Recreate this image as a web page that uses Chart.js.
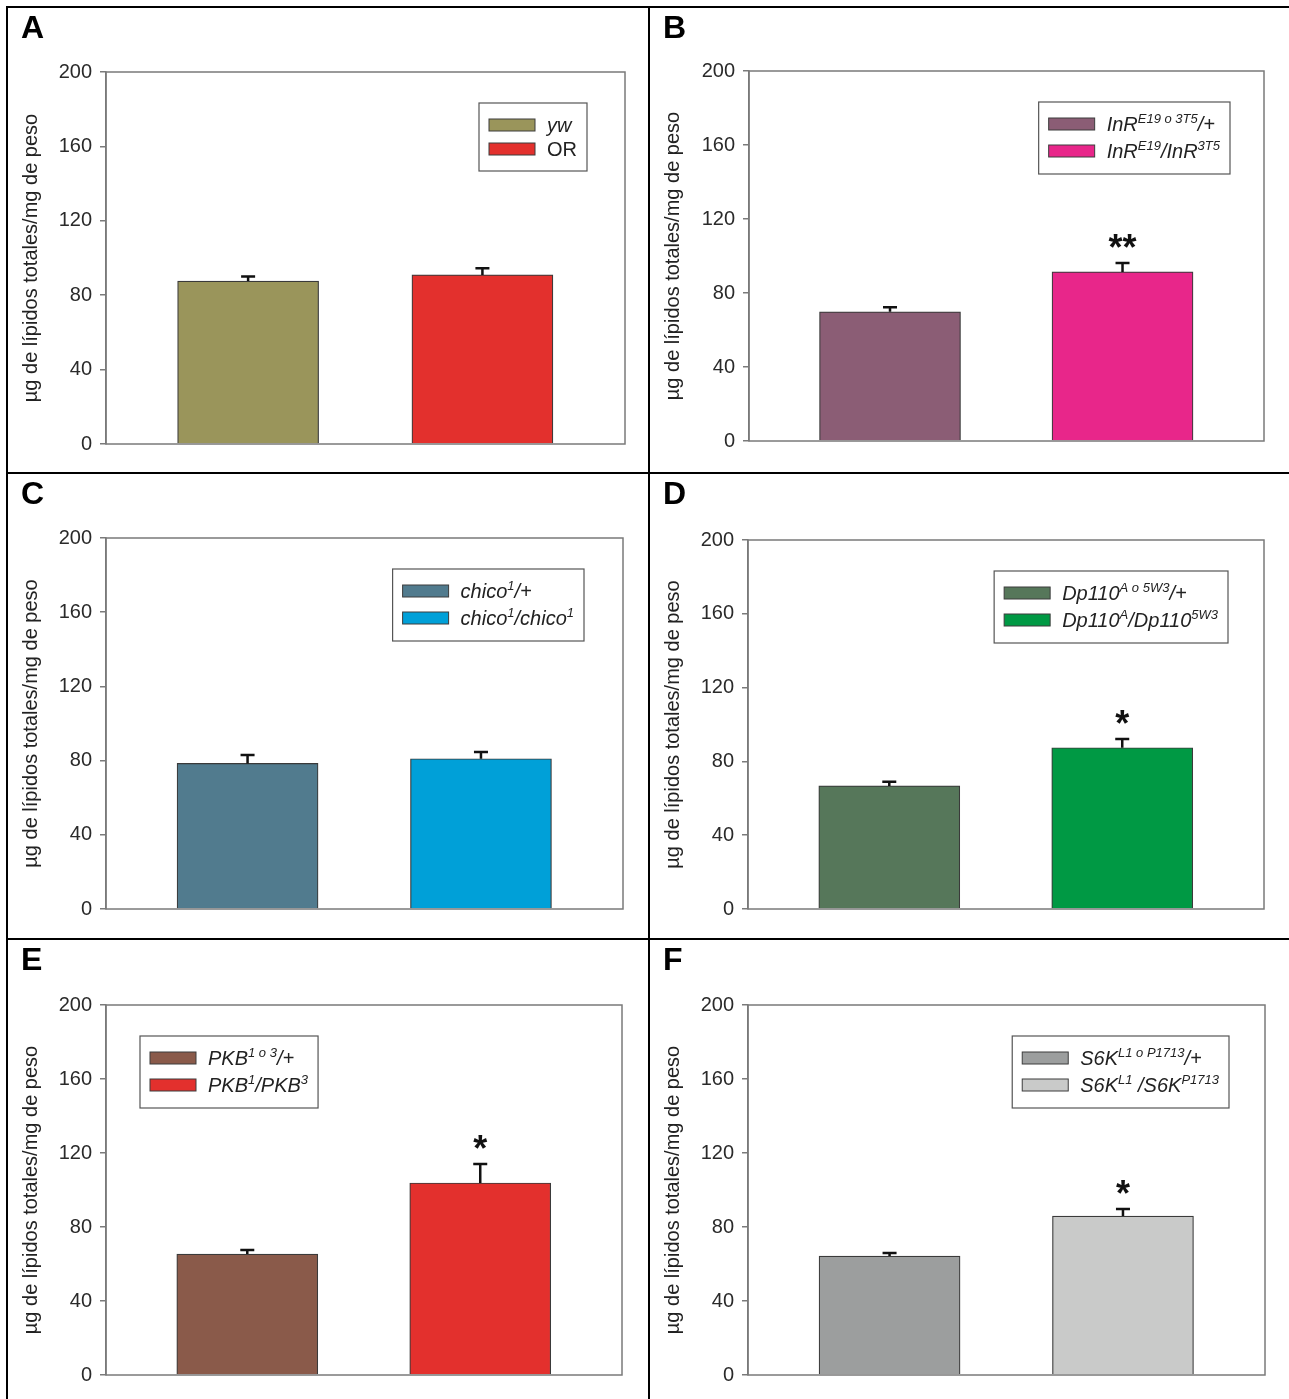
<!DOCTYPE html>
<html>
<head>
<meta charset="utf-8">
<script src="https://cdn.jsdelivr.net/npm/chart.js@4.4.1/dist/chart.umd.min.js"></script>
<style>
  body { margin: 0; background: #fff; width: 1289px; height: 1399px; position: relative; overflow: hidden; }
  .rule { position: absolute; background: #000; }
  canvas { position: absolute; }
</style>
</head>
<body>
<div class="rule" style="left:6px;top:6px;width:1283px;height:2px"></div>
<div class="rule" style="left:6px;top:6px;width:2px;height:1393px"></div>
<div class="rule" style="left:648px;top:6px;width:2px;height:1393px"></div>
<div class="rule" style="left:6px;top:472px;width:1283px;height:2px"></div>
<div class="rule" style="left:6px;top:938px;width:1283px;height:2px"></div>
<canvas id="panel0"></canvas>
<canvas id="panel1"></canvas>
<canvas id="panel2"></canvas>
<canvas id="panel3"></canvas>
<canvas id="panel4"></canvas>
<canvas id="panel5"></canvas>
<script>
// values (mean and SEM, µg lipids / mg weight)
const panelLetters = ['A', 'B', 'C', 'D', 'E', 'F'];
const groupMeans = [[87.6, 90.9], [69.8, 91.4], [78.5, 81.0], [66.7, 87.4], [65.4, 103.8], [64.3, 85.9]];
const groupErrors = [[2.5, 3.6], [2.5, 4.8], [4.5, 3.6], [2.3, 4.7], [2.2, 10.3], [1.6, 3.8]];
const significance = [['', ''], ['', '**'], ['', ''], ['', '*'], ['', '*'], ['', '*']];
const legendLabels = [
  ['yw', 'OR'],
  ['InR^{E19 o 3T5}/+', 'InR^{E19}/InR^{3T5}'],
  ['chico^{1}/+', 'chico^{1}/chico^{1}'],
  ['Dp110^{A o 5W3}/+', 'Dp110^{A}/Dp110^{5W3}'],
  ['PKB^{1 o 3}/+', 'PKB^{1}/PKB^{3}'],
  ['S6K^{L1 o P1713}/+', 'S6K^{L1} /S6K^{P1713}']
];
const legendItalic = [[true, false], [true, true], [true, true], [true, true], [true, true], [true, true]];
const barColors = [
  ['#9a955b', '#e3302d'],
  ['#8b5d75', '#e8268a'],
  ['#517b8e', '#00a0d8'],
  ['#56775a', '#009944'],
  ['#8a5a4a', '#e3302d'],
  ['#9c9e9e', '#c9cac9']
];
const yTicks = [0, 40, 80, 120, 160, 200];
const yTitle = 'µg de lípidos totales/mg de peso';

// page layout: canvas boxes and plot boxes in page pixels
const canvasBoxes = [[8, 8, 640, 464], [650, 8, 639, 464], [8, 474, 640, 464], [650, 474, 639, 464], [8, 940, 640, 459], [650, 940, 639, 459]];
const plotBoxes = [[106, 72, 625, 444], [749, 71, 1264, 441], [106, 538, 623, 909], [748, 540, 1264, 909], [106, 1005, 622, 1375], [748, 1005, 1265, 1375]];
const legendSide = ['right', 'right', 'right', 'right', 'left', 'right'];
const legendInset = [38, 34, 39, 36, 34, 36];

const FONT = 'Arial, "Liberation Sans", sans-serif';

// split 'InR^{E19}/+' into normal and superscript pieces
function parseRich(s) {
  const parts = [];
  const re = /\^\{([^}]*)\}/g;
  let last = 0, m;
  while ((m = re.exec(s))) {
    if (m.index > last) parts.push({ t: s.slice(last, m.index), sup: false });
    parts.push({ t: m[1], sup: true });
    last = re.lastIndex;
  }
  if (last < s.length) parts.push({ t: s.slice(last), sup: false });
  return parts;
}

function richFont(sup, italic) {
  return (italic ? 'italic ' : '') + (sup ? '13px ' : '20px ') + FONT;
}

function richWidth(ctx, parts, italic) {
  let w = 0;
  parts.forEach(p => { ctx.font = richFont(p.sup, italic); w += ctx.measureText(p.t).width; });
  return w;
}

function drawRich(ctx, parts, italic, x, y) {
  parts.forEach(p => {
    ctx.font = richFont(p.sup, italic);
    ctx.fillText(p.t, x, p.sup ? y - 8 : y);
    x += ctx.measureText(p.t).width;
  });
}

const panelDecor = {
  id: 'panelDecor',
  afterDatasetsDraw(chart, args, opts) {
    const { ctx, chartArea: a, scales: { y } } = chart;
    ctx.save();
    // box around the plot
    ctx.strokeStyle = '#7a7a7a';
    ctx.lineWidth = 1.5;
    ctx.strokeRect(a.left, a.top, a.width, a.height);

    // error bars (upper only) and significance stars
    const bars = chart.getDatasetMeta(0).data;
    bars.forEach((bar, i) => {
      const top = y.getPixelForValue(opts.means[i] + opts.errors[i]);
      ctx.strokeStyle = '#111';
      ctx.lineWidth = 2.5;
      ctx.beginPath();
      ctx.moveTo(bar.x, bar.y);
      ctx.lineTo(bar.x, top);
      ctx.moveTo(bar.x - 7, top);
      ctx.lineTo(bar.x + 7, top);
      ctx.stroke();
      if (opts.stars[i]) {
        ctx.fillStyle = '#111';
        ctx.font = 'bold 36px ' + FONT;
        ctx.textAlign = 'center';
        ctx.textBaseline = 'alphabetic';
        ctx.fillText(opts.stars[i], bar.x, top - 3);
      }
    });

    // legend box with superscripts
    const rows = opts.labels.map(parseRich);
    const hasSup = rows.some(r => r.some(p => p.sup));
    const gap = hasSup ? 27 : 24;
    const textW = Math.max(...rows.map((r, i) => richWidth(ctx, r, opts.italic[i])));
    const boxW = 10 + 46 + 12 + textW + 10;
    const boxH = hasSup ? 72 : 68;
    const bx = opts.side === 'left' ? a.left + opts.inset : a.right - opts.inset - boxW;
    const by = a.top + 31;
    ctx.fillStyle = '#fff';
    ctx.fillRect(bx, by, boxW, boxH);
    ctx.strokeStyle = '#555';
    ctx.lineWidth = 1.2;
    ctx.strokeRect(bx, by, boxW, boxH);
    rows.forEach((r, i) => {
      const cy = by + 22 + i * gap;
      ctx.fillStyle = opts.colors[i];
      ctx.fillRect(bx + 10, cy - 6, 46, 12);
      ctx.strokeStyle = '#3c3c3c';
      ctx.lineWidth = 1;
      ctx.strokeRect(bx + 10, cy - 6, 46, 12);
      ctx.fillStyle = '#222';
      ctx.textAlign = 'left';
      ctx.textBaseline = 'alphabetic';
      drawRich(ctx, r, opts.italic[i], bx + 68, cy + 7);
    });

    // panel letter
    ctx.fillStyle = '#000';
    ctx.font = 'bold 32px ' + FONT;
    ctx.textAlign = 'left';
    ctx.fillText(opts.letter, 13, 30);
    ctx.restore();
  }
};

panelLetters.forEach((letter, p) => {
  const [cx, cy, cw, ch] = canvasBoxes[p];
  const [x1, y1, x2, y2] = plotBoxes[p];
  const cv = document.getElementById('panel' + p);
  cv.width = cw;
  cv.height = ch;
  cv.style.left = cx + 'px';
  cv.style.top = cy + 'px';
  cv.style.width = cw + 'px';
  cv.style.height = ch + 'px';

  const means = groupMeans[p];
  new Chart(cv, {
    type: 'bar',
    data: {
      datasets: [{
        data: means.map((v, i) => ({ x: i + 1, y: v })),
        backgroundColor: barColors[p],
        borderColor: '#3a3a3a',
        borderWidth: 1.2,
        barThickness: 141
      }]
    },
    options: {
      responsive: false,
      animation: false,
      events: [],
      layout: { padding: { top: y1 - cy, right: cx + cw - x2, bottom: cy + ch - y2, left: 0 } },
      plugins: {
        legend: { display: false },
        tooltip: { enabled: false },
        panelDecor: {
          means: means,
          errors: groupErrors[p],
          stars: significance[p],
          labels: legendLabels[p],
          italic: legendItalic[p],
          colors: barColors[p],
          side: legendSide[p],
          inset: legendInset[p],
          letter: letter
        }
      },
      scales: {
        x: { type: 'linear', min: 0.3935, max: 2.6085, display: false, offset: false },
        y: {
          min: 0,
          max: 200,
          afterBuildTicks: s => { s.ticks = yTicks.map(v => ({ value: v })); },
          afterFit: s => { s.width = x1 - cx; },
          ticks: { color: '#2a2a2a', padding: 8, font: { size: 20, family: FONT } },
          grid: { drawOnChartArea: false, tickLength: 6, color: '#7a7a7a', lineWidth: 1.5 },
          border: { color: '#7a7a7a', width: 1.5 },
          title: {
            display: true,
            text: yTitle,
            color: '#222',
            font: { size: 20, family: FONT },
            padding: { top: 11, bottom: 0 }
          }
        }
      }
    },
    plugins: [panelDecor]
  });
});
</script>
</body>
</html>
